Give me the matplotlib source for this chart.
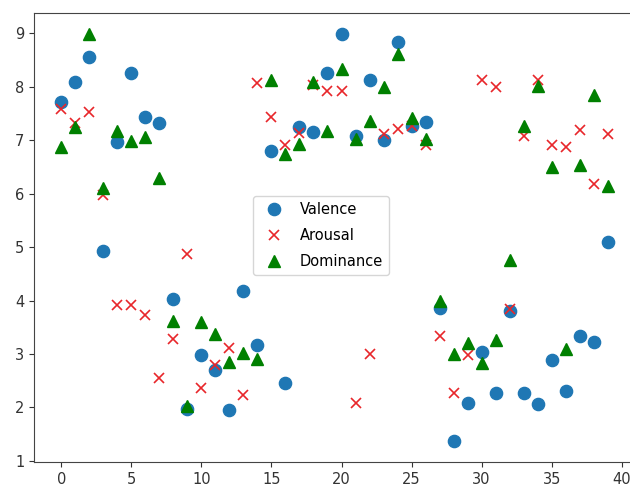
import numpy as np
import matplotlib
matplotlib.use("Agg")
import matplotlib.pyplot as plt

# ------------------- data --------------------------------------------- #
idx = np.arange(40)

valence = [7.72, 8.09, 8.56, 4.93, 6.96, 8.26, 7.44, 7.32, 4.03, 1.97,
           2.98, 2.70, 1.95, 4.18, 3.17, 6.80, 2.46, 7.25, 7.16, 8.25,
           8.99, 7.07, 8.13, 7.01, 8.84, 7.26, 7.34, 3.86, 1.38, 2.08,
           3.03, 2.28, 3.80, 2.28, 2.06, 2.89, 2.30, 3.33, 3.23, 5.09]

arousal = [7.58, 7.32, 7.53, 5.97, 3.91, 3.91, 3.73, 2.56, 3.28, 4.87,
           2.37, 2.79, 3.12, 2.24, 8.07, 7.44, 6.91, 7.14, 8.03, 7.92,
           7.93, 2.08, 3.00, 7.11, 7.21, 7.26, 6.91, 3.34, 2.28, 2.98,
           8.13, 8.00, 3.85, 7.07, 8.13, 6.91, 6.88, 7.19, 6.19, 7.11]

dominance = [6.87, 7.25, 8.98, 6.10, 7.17, 6.98, 7.06, 6.30, 3.62, 2.02,
             3.60, 3.37, 2.86, 3.01, 2.90, 8.12, 6.75, 6.93, 8.09, 7.17,
             8.34, 7.03, 7.36, 7.99, 8.62, 7.42, 7.03, 4.00, 3.00, 3.20,
             2.84, 3.27, 4.76, 7.26, 8.01, 6.50, 3.09, 6.53, 7.84, 6.15]

labels = ["Valence", "Arousal", "Dominance"]

# --------------------- plot ------------------------------------------- #
W, H = 630, 487
fig = plt.figure(figsize=(W / 100, H / 100), dpi=100)
# axes run past the right edge, like the cropped original
ax = fig.add_axes([34 / W, (H - 462) / H, 601 / W, 449 / H])

ax.plot(idx, valence, "o", color="#1f77b4", markersize=8.8, label=labels[0])
ax.plot(idx, arousal, "x", color="#e8262a", markersize=7, mew=1.2, label=labels[1])
ax.plot(idx, dominance, "^", color="green", markersize=8, label=labels[2])

ax.set_xlim(-1.95, 40.95)
ax.set_ylim(0.98, 9.38)
ax.set_xticks(np.arange(0, 41, 5))
ax.set_yticks(np.arange(1, 10, 1))
ax.tick_params(labelsize=10.5, colors="#333333")
for s in ax.spines.values():
    s.set_color("#444444")

ax.legend(loc="center", fontsize=10.5, labelspacing=0.75,
          bbox_to_anchor=(0.478, 0.505))

fig.savefig("out.png", dpi=100)
